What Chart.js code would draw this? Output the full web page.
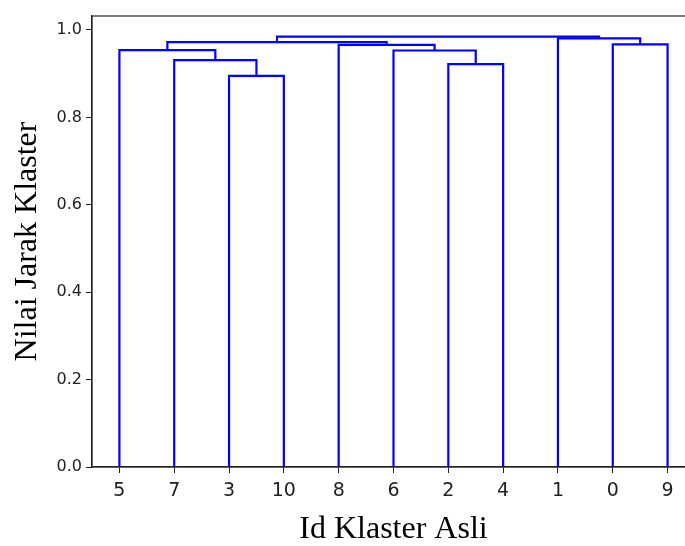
<!DOCTYPE html>
<html>
<head>
<meta charset="utf-8">
<script src="https://cdn.jsdelivr.net/npm/chart.js@4.4.0/dist/chart.umd.min.js"></script>
<style>
  html, body { margin: 0; padding: 0; background: #fff; overflow: hidden; }
  #wrap { width: 685px; height: 546px; overflow: hidden; }
  #box { width: 700px; height: 546px; }
</style>
</head>
<body>
<div id="wrap"><div id="box"><canvas id="dendro"></canvas></div></div>
<script>
// Leaf order along the x axis (original cluster ids)
const leafLabels = ['5', '7', '3', '10', '8', '6', '2', '4', '1', '0', '9'];

// Merges, linkage style: nodes 0..10 are leaves (by position), 11.. are merged clusters
const mergeLeft   = [2, 1, 0, 6, 5, 4, 13, 9, 8, 17];
const mergeRight  = [3, 11, 12, 7, 14, 15, 16, 10, 18, 19];
const mergeHeight = [0.895, 0.931, 0.954, 0.922, 0.953, 0.966, 0.972, 0.967, 0.981, 0.985];

const yTicks = [0.0, 0.2, 0.4, 0.6, 0.8, 1.0];

// Build the U-shaped links from the merges
function buildLinks() {
    const nodeX = leafLabels.map((_, i) => 5 + 10 * i);
    const nodeY = leafLabels.map(() => 0);
    const links = [];
    for (let i = 0; i < mergeHeight.length; i++) {
        const a = mergeLeft[i], b = mergeRight[i], h = mergeHeight[i];
        links.push([
            { x: nodeX[a], y: nodeY[a] },
            { x: nodeX[a], y: h },
            { x: nodeX[b], y: h },
            { x: nodeX[b], y: nodeY[b] }
        ]);
        nodeX.push((nodeX[a] + nodeX[b]) / 2);
        nodeY.push(h);
    }
    return links;
}

const frame = {
    id: 'frame',
    afterDraw(chart) {
        const { ctx, chartArea: a } = chart;
        ctx.save();
        ctx.strokeStyle = '#222';
        ctx.lineWidth = 1.2;
        ctx.strokeRect(a.left, a.top, a.right - a.left, a.bottom - a.top);
        ctx.restore();
    }
};

const datasets = buildLinks().map(pts => ({
    data: pts,
    borderColor: '#0000ff',
    borderWidth: 2.2,
    pointRadius: 0,
    fill: false,
    tension: 0
}));

new Chart(document.getElementById('dendro'), {
    type: 'line',
    data: { datasets: datasets },
    options: {
        responsive: true,
        maintainAspectRatio: false,
        animation: false,
        layout: { padding: { top: 16, right: 5, left: 0, bottom: 0 } },
        plugins: { legend: { display: false }, tooltip: { enabled: false } },
        scales: {
            x: {
                type: 'linear',
                min: 0,
                max: 110,
                afterBuildTicks: axis => { axis.ticks = leafLabels.map((_, i) => ({ value: 5 + 10 * i })); },
                afterFit: axis => { axis.height = 79; },
                grid: { display: true, drawOnChartArea: false, drawTicks: true, tickLength: 6, color: '#222' },
                border: { display: true, color: '#222', width: 1.2 },
                ticks: {
                    autoSkip: false,
                    maxRotation: 0,
                    padding: 7,
                    color: '#222',
                    font: { family: 'DejaVu Sans', size: 19 },
                    callback: v => leafLabels[Math.round((v - 5) / 10)]
                },
                title: {
                    display: true,
                    text: 'Id Klaster Asli',
                    color: '#000',
                    font: { family: 'Liberation Serif', size: 32, lineHeight: 1 },
                    padding: { top: 0, bottom: 0 }
                }
            },
            y: {
                min: 0,
                max: 1.032,
                afterBuildTicks: axis => { axis.ticks = yTicks.map(v => ({ value: v })); },
                afterFit: axis => { axis.width = 92; },
                grid: { display: true, drawOnChartArea: false, drawTicks: true, tickLength: 6, color: '#222' },
                border: { display: true, color: '#222', width: 1.2 },
                ticks: {
                    padding: 4,
                    color: '#222',
                    font: { family: 'DejaVu Sans', size: 16 },
                    callback: v => v.toFixed(1)
                },
                title: {
                    display: true,
                    text: 'Nilai Jarak Klaster',
                    color: '#000',
                    font: { family: 'Liberation Serif', size: 32, lineHeight: 1 },
                    padding: { top: 12, bottom: 0 }
                }
            }
        }
    },
    plugins: [frame]
});
</script>
</body>
</html>
